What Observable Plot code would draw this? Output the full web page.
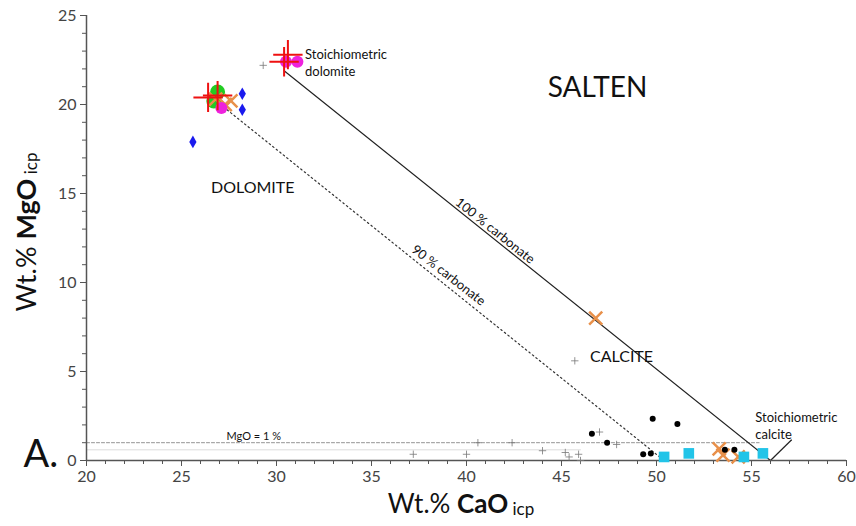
<!DOCTYPE html>
<html><head><meta charset="utf-8">
<script src="https://cdn.jsdelivr.net/npm/d3@7"></script>
<script src="https://cdn.jsdelivr.net/npm/@observablehq/plot@0.6"></script>
<style>body{margin:0;background:#fff;font-family:Lato,"Open Sans",sans-serif}</style>
</head><body><div id="chart"></div>
<script>
const xTicks = [20,25,30,35,40,45,50,55,60];
const yTicks = [0,5,10,15,20,25];
const xMinor = d3.range(20,61,1);
const yMinor = d3.range(0,26,1);

const redCross = [[30.6,22.8],[30.4,22.4],[26.4,20.4],[26.9,20.5]];
const magenta = [[31.1,22.4],[30.5,22.4],[27.1,19.8]];
const green = [[26.9,20.7],[26.7,20.2]];
const orangeX = [[27.3,20.0],[27.6,20.2],[26.8,20.3],[46.8,8.0],[53.3,0.65],[53.5,0.3],[54.3,0.2]];
const blueDiamond = [[28.2,20.6],[28.2,19.7],[25.6,17.9]];
const blackDot = [[46.6,1.5],[47.4,1.0],[49.8,2.35],[51.1,2.05],[49.3,0.35],[49.7,0.4],[53.6,0.6],[54.1,0.6]];
const cyanSquare = [[50.4,0.2],[51.7,0.4],[54.6,0.2],[55.6,0.4]];
const smallPlus = [[29.3,22.2],[45.7,5.6],[37.2,0.35],[40.0,0.35],[40.6,1.0],[42.4,1.0],[44.0,0.55],[45.2,0.45],[45.4,0.2],[45.9,0.35],[46.0,0.0],[47.0,1.6],[47.9,0.9]];

const line100 = [[30.4,21.9],[56.0,0]];
const line90 = [[27.4,19.7],[50.4,0]];
const lineMgO1 = [[20,1],[55.4,1]];
const lineFaint = [[20,0.6],[46,0.6]];
const leader = [[56.0,0],[57.1,1.15]];

const labelsMiddle = [
  {x:46.9, y:20.9, t:"SALTEN", size:28, rot:0},
  {x:28.75, y:15.3, t:"DOLOMITE", size:16, rot:0},
  {x:41.5, y:12.9, t:"100 % carbonate", size:13, rot:38.6},
  {x:39.05, y:10.4, t:"90 % carbonate", size:13, rot:38},
  {x:28.8, y:1.35, t:"MgO = 1 %", size:11, rot:0},
  {x:17.6, y:0.3, t:"A.", size:38, rot:0}
];
const labelsStart = [
  {x:46.5, y:5.9, t:"CALCITE", size:16},
  {x:31.5, y:22.4, t:"Stoichiometric\ndolomite", size:13},
  {x:55.2, y:2.0, t:"Stoichiometric\ncalcite", size:13}
];

const F = "Lato, 'Open Sans', sans-serif";
const axisColor = "#555";
const blank = () => "";

const plot = Plot.plot({
  width: 856, height: 526,
  marginLeft: 86, marginRight: 10, marginTop: 15, marginBottom: 66,
  style: {fontFamily: F, background: "#fff"},
  x: {domain: [20,60]},
  y: {domain: [0,25]},
  marks: [
    Plot.axisX({ticks: xMinor, tickSize: 4, tickFormat: blank, stroke: axisColor, label: null}),
    Plot.axisY({ticks: yMinor, tickSize: 4, tickFormat: blank, stroke: axisColor, label: null}),
    Plot.axisX({ticks: xTicks, tickSize: 6, tickPadding: 4, fontSize: 16, stroke: axisColor, fill: "#444", label: null}),
    Plot.axisY({ticks: yTicks, tickSize: 6, tickPadding: 4, fontSize: 16, stroke: axisColor, fill: "#444", label: null}),
    Plot.line(lineFaint, {x: d=>d[0], y: d=>d[1], stroke: "#ddd", strokeWidth: 1}),
    Plot.line(lineMgO1, {x: d=>d[0], y: d=>d[1], stroke: "#777", strokeWidth: 0.8, strokeDasharray: "3,2"}),
    Plot.line(line100, {x: d=>d[0], y: d=>d[1], stroke: "#222", strokeWidth: 1.2}),
    Plot.line(line90, {x: d=>d[0], y: d=>d[1], stroke: "#333", strokeWidth: 1.2, strokeDasharray: "1.5,3"}),
    Plot.line(leader, {x: d=>d[0], y: d=>d[1], stroke: "#222", strokeWidth: 1.2}),
    Plot.ruleX([20], {stroke: axisColor, strokeWidth: 1.5}),
    Plot.ruleY([0], {stroke: axisColor, strokeWidth: 1.5}),
    Plot.dot(smallPlus, {x: d=>d[0], y: d=>d[1], symbol: "plus", r: 2.5, stroke: "#777", strokeWidth: 0.8}),
    Plot.dot(green, {x: d=>d[0], y: d=>d[1], r: 7.5, fill: "#22cc22"}),
    Plot.dot(orangeX, {x: d=>d[0], y: d=>d[1], symbol: "times", r: 6, stroke: "#e8904a", strokeWidth: 2.5}),
    Plot.dot(magenta, {x: d=>d[0], y: d=>d[1], r: 6, fill: "#ee22dd"}),
    Plot.dot(blueDiamond, {x: d=>d[0], y: d=>d[1], symbol: "diamond", r: 3.8, fill: "#1a1aee"}),
    Plot.dot(cyanSquare, {x: d=>d[0], y: d=>d[1], symbol: "square", r: 6, fill: "#22c4e8"}),
    Plot.dot(blackDot, {x: d=>d[0], y: d=>d[1], r: 3, fill: "#000"}),
    Plot.dot(redCross, {x: d=>d[0], y: d=>d[1], symbol: "plus", r: 9.5, stroke: "#ee1111", strokeWidth: 2}),
    Plot.text(labelsMiddle, {x: "x", y: "y", text: "t", fontSize: d=>d.size, textAnchor: "middle", rotate: d=>d.rot, fill: "#111", clip: false}),
    Plot.text(labelsStart, {x: "x", y: "y", text: "t", fontSize: d=>d.size, textAnchor: "start", fill: "#111", lineHeight: 1.35, clip: false})
  ]
});

const svg = d3.select(plot);
svg.append("text")
  .attr("transform", "translate(36,232) rotate(-90)")
  .attr("text-anchor", "middle")
  .attr("font-family", F).attr("fill", "#111")
  .call(t => {
    t.append("tspan").attr("font-size", 27).text("Wt.% ");
    t.append("tspan").attr("font-size", 27).attr("font-weight", "bold").text("MgO");
    t.append("tspan").attr("font-size", 17).attr("dy", 1).text(" icp");
  });
svg.append("text")
  .attr("x", 461).attr("y", 513)
  .attr("text-anchor", "middle")
  .attr("font-family", F).attr("fill", "#111")
  .call(t => {
    t.append("tspan").attr("font-size", 26).text("Wt.% ");
    t.append("tspan").attr("font-size", 26).attr("font-weight", "bold").text("CaO");
    t.append("tspan").attr("font-size", 17).attr("dy", 2).text(" icp");
  });
document.getElementById("chart").append(plot);
</script>
</body></html>
